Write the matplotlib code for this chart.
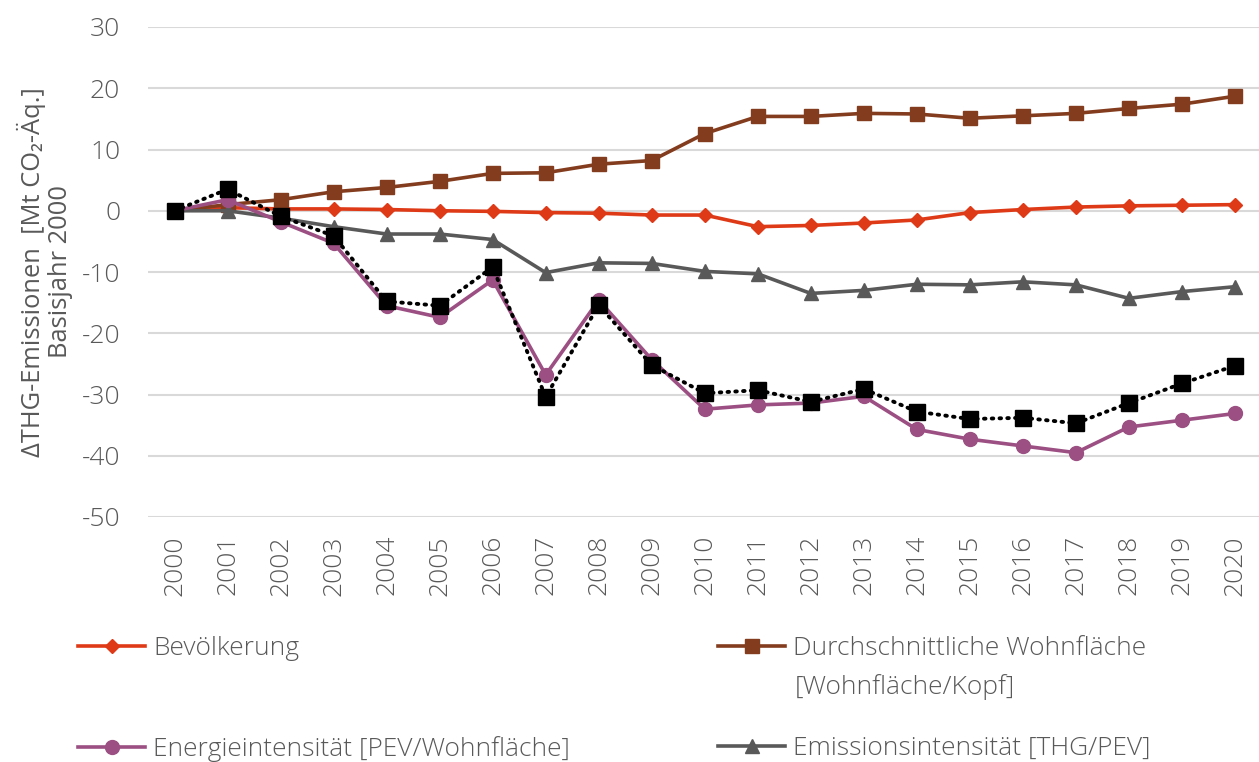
import matplotlib
matplotlib.use("Agg")
import matplotlib.pyplot as plt

plt.rcParams['font.family'] = ['Open Sans', 'DejaVu Sans']
plt.rcParams['font.weight'] = 'light'

years = [str(y) for y in range(2000, 2021)]
bevoelkerung = [0, 0.5, 0.3, 0.3, 0.2, 0.0, -0.1, -0.3, -0.4, -0.7, -0.7, -2.6, -2.4, -2.0, -1.5, -0.3, 0.2, 0.6, 0.8, 0.9, 1.0]
wohnflaeche = [0, 1.0, 1.8, 3.1, 3.8, 4.8, 6.1, 6.2, 7.6, 8.2, 12.6, 15.4, 15.4, 15.9, 15.8, 15.1, 15.5, 15.9, 16.7, 17.4, 18.7]
energieint = [0, 1.8, -1.8, -5.3, -15.5, -17.4, -11.3, -26.8, -14.6, -24.3, -32.4, -31.7, -31.4, -30.3, -35.7, -37.3, -38.4, -39.5, -35.3, -34.2, -33.1]
emissionsint = [0, 0.0, -1.2, -2.6, -3.8, -3.8, -4.7, -10.1, -8.5, -8.6, -9.9, -10.3, -13.5, -13.0, -12.0, -12.1, -11.6, -12.1, -14.3, -13.2, -12.4]
gesamt = [0, 3.5, -0.9, -4.1, -14.8, -15.5, -9.2, -30.4, -15.4, -25.2, -29.8, -29.3, -31.2, -29.1, -32.8, -34.0, -33.8, -34.7, -31.4, -28.2, -25.3]

labels = ["Bevölkerung", "Durchschnittliche Wohnfläche",
          "Energieintensität [PEV/Wohnfläche]", "Emissionsintensität [THG/PEV]"]
label_cont = "[Wohnfläche/Kopf]"
yticks = [30, 20, 10, 0, -10, -20, -30, -40, -50]

c_red = "#DF3A17"
c_brown = "#843C1E"
c_purple = "#9B4F82"
c_grey = "#595959"
txt = "#595959"

fig = plt.figure(figsize=(12.59, 7.62), dpi=100)
ax = fig.add_axes([148/1259, 245/762, (1261.5-148)/1259, 490/762])
x = list(range(len(years)))
lw = 2.6
h_red, = ax.plot(x, bevoelkerung, color=c_red, lw=lw, marker='D', ms=7, zorder=3)
h_brown, = ax.plot(x, wohnflaeche, color=c_brown, lw=lw, marker='s', ms=9.5, zorder=3)
h_grey, = ax.plot(x, emissionsint, color=c_grey, lw=lw, marker='^', ms=10, zorder=3)
h_purple, = ax.plot(x, energieint, color=c_purple, lw=lw, marker='o', ms=10, zorder=4)
ax.plot(x, gesamt, color='black', lw=2.8, ls=(0, (0.4, 1.6)), dash_capstyle='round',
        marker='s', ms=11, zorder=5)

ax.set_xlim(-0.5, 20.5)
ax.set_ylim(-50, 30)
ax.set_yticks(yticks)
ax.set_yticklabels([str(v) for v in yticks])
ax.set_xticks(x)
ax.set_xticklabels(years, rotation=90)
ax.tick_params(axis='both', length=0, labelsize=19, labelcolor=txt)
ax.tick_params(axis='y', pad=20)
ax.tick_params(axis='x', pad=13)
ax.grid(axis='y', color='#D9D9D9', lw=1.5, zorder=0)
ax.set_axisbelow(True)
for s in ax.spines.values():
    s.set_visible(False)

ax.set_ylabel("ΔTHG-Emissionen  [Mt CO₂-Äq.]\nBasisjahr 2000", fontsize=18.4, color=txt,
              labelpad=6, linespacing=1.1)

def add_leg(handle, label, xpx, ypx):
    lg = fig.legend([handle], [label], loc='upper left',
                    bbox_to_anchor=(xpx/1259, 1 - ypx/762), frameon=False,
                    fontsize=19, handlelength=2.55, handletextpad=0.3,
                    borderaxespad=0, borderpad=0, labelcolor=txt)
    return lg

add_leg(h_red, labels[0], 78, 636)
add_leg(h_brown, labels[1], 718, 636)
add_leg(h_purple, labels[2], 78, 736)
add_leg(h_grey, labels[3], 718, 736)
fig.text(795/1259, 1 - 687/762, label_cont, fontsize=19, color=txt, va='center', ha='left')

fig.savefig("out.png", dpi=100)
